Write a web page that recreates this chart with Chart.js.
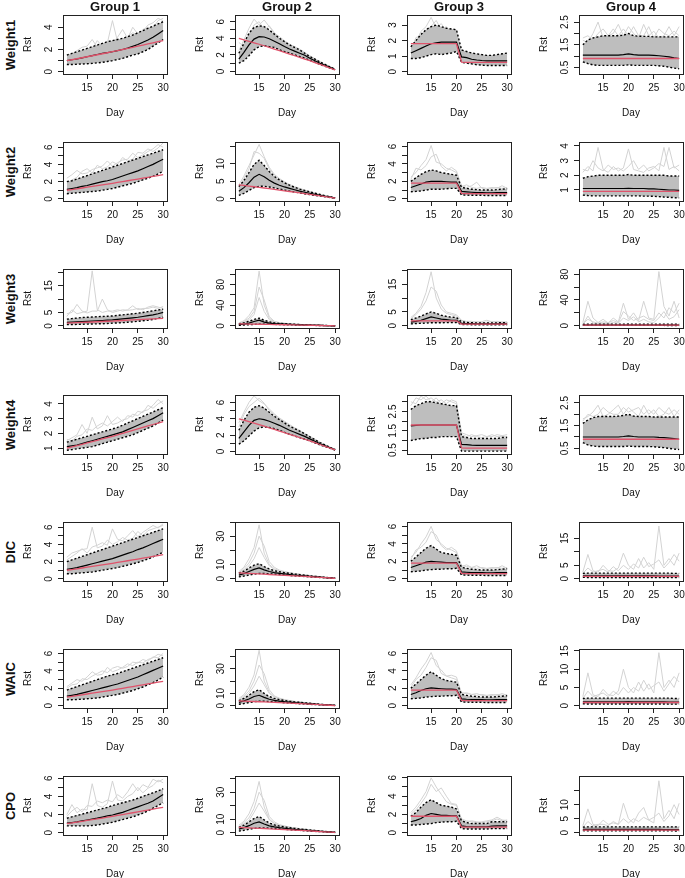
<!DOCTYPE html>
<html>
<head>
<meta charset="utf-8">
<script src="https://cdn.jsdelivr.net/npm/chart.js@4.4.1/dist/chart.umd.min.js"></script>
<style>
  body { margin: 0; background: #fff; width: 685px; height: 878px; position: relative; overflow: hidden;
         font-family: "Liberation Sans", Arial, sans-serif; }
  canvas { position: absolute; }
  .grp { position: absolute; font-weight: bold; font-size: 13px; color: #111; transform: translate(-50%, -50%); white-space: nowrap; }
  .row { position: absolute; font-weight: bold; font-size: 13px; color: #111; transform: translate(-50%, -50%) rotate(-90deg); white-space: nowrap; }
</style>
</head>
<body>
<script>
// ---- data ----
const days = [11, 12, 13, 14, 15, 16, 17, 18, 19, 20, 21, 22, 23, 24, 25, 26, 27, 28, 29, 30];
const dayTicks = [15, 20, 25, 30];
const groupNames = ['Group 1', 'Group 2', 'Group 3', 'Group 4'];
const rowNames = ['Weight1', 'Weight2', 'Weight3', 'Weight4', 'DIC', 'WAIC', 'CPO'];

// true Rt per group (red)
const truthG1 = [1.0, 1.08, 1.17, 1.26, 1.35, 1.44, 1.53, 1.62, 1.71, 1.8, 1.9, 2.0, 2.1, 2.2, 2.3, 2.4, 2.5, 2.6, 2.7, 2.8];
const truthG2 = [4.0, 3.82, 3.64, 3.46, 3.28, 3.1, 2.9, 2.7, 2.5, 2.3, 2.1, 1.9, 1.7, 1.5, 1.3, 1.08, 0.86, 0.64, 0.42, 0.2];
const truthG3 = [1.8, 1.8, 1.8, 1.8, 1.8, 1.8, 1.8, 1.8, 1.8, 1.8, 0.62, 0.6, 0.6, 0.6, 0.6, 0.6, 0.6, 0.6, 0.6, 0.6];
const truthG4 = [0.9, 0.9, 0.9, 0.9, 0.9, 0.9, 0.9, 0.9, 0.9, 0.9, 0.9, 0.9, 0.9, 0.9, 0.9, 0.9, 0.9, 0.9, 0.9, 0.9];

// y tick sets
const yt04 = [0, 1, 2, 3, 4];              const yl04 = ['0', '', '2', '', '4'];
const yt06 = [0, 1, 2, 3, 4, 5, 6];        const yl06 = ['0', '', '2', '', '4', '', '6'];
const yt03 = [0, 1, 2, 3];                 const yl03 = ['0', '1', '2', '3'];
const ytHalf = [0.5, 1.0, 1.5, 2.0, 2.5];  const ylHalf = ['0.5', '', '1.5', '', '2.5'];
const yt14 = [1, 2, 3, 4];                 const yl14 = ['1', '2', '3', '4'];
const yt015 = [0, 5, 10, 15];              const yl015 = ['0', '5', '10', ''];
const yt020 = [0, 5, 10, 15, 20];          const yl020 = ['0', '5', '', '15', ''];
const yt0100 = [0, 20, 40, 60, 80, 100];   const yl0100 = ['0', '', '40', '', '80', ''];
const yt040 = [0, 10, 20, 30, 40];         const yl040 = ['0', '10', '', '30', ''];
const ytW4G3 = [0.5, 1.0, 1.5, 2.0, 2.5, 3.0]; const ylW4G3 = ['0.5', '', '1.5', '', '2.5', ''];
const ytG4b = [0, 5, 10, 15];              const ylG4b = ['0', '5', '', '15'];
const ytG4c = [0, 5, 10, 15];              const ylG4c = ['0', '5', '10', '15'];

// y axis limits [bottom, top]
const lim1 = [[-0.2, 5.1], [-0.3, 6.8], [-0.15, 3.65], [0.22, 2.81]];
const lim2 = [[-0.25, 6.6], [-0.6, 16.2], [-0.25, 6.5], [0.25, 4.27]];
const lim3 = [[-0.8, 21.2], [-4, 110], [-0.8, 20.5], [-3.5, 88]];
const lim4 = [[0.6, 4.6], [-0.3, 6.9], [0.3, 3.35], [0.25, 2.85]];
const lim5 = [[-0.25, 6.6], [-1.7, 40], [-0.25, 6.5], [-0.8, 21]];
const lim6 = [[-0.25, 6.5], [-1.8, 46], [-0.25, 6.5], [-0.6, 15.5]];
const lim7 = [[-0.25, 6.25], [-1.7, 42], [-0.25, 6.2], [-0.8, 20.2]];

// Weight1
const w1g1Mean = [1.0, 1.08, 1.15, 1.25, 1.35, 1.45, 1.55, 1.65, 1.72, 1.8, 1.9, 2.0, 2.12, 2.28, 2.45, 2.65, 2.85, 3.1, 3.4, 3.7];
const w1g1Hi = [1.5, 1.65, 1.8, 1.95, 2.1, 2.25, 2.4, 2.55, 2.7, 2.8, 2.9, 3.0, 3.15, 3.3, 3.5, 3.7, 3.9, 4.1, 4.3, 4.5];
const w1g1Lo = [0.65, 0.65, 0.68, 0.7, 0.72, 0.75, 0.8, 0.85, 0.92, 1.0, 1.1, 1.2, 1.35, 1.5, 1.6, 1.8, 2.0, 2.3, 2.6, 2.9];
const w1g1SimA = [1.2, 1.6, 1.9, 2.2, 2.3, 2.9, 2.2, 2.5, 2.6, 4.6, 2.7, 2.9, 3.2, 3.5, 3.3, 3.8, 4.0, 3.9, 4.6, 4.8];
const w1g1SimB = [1.0, 1.3, 1.6, 1.5, 1.9, 2.0, 2.8, 2.3, 2.4, 2.6, 3.1, 3.8, 3.0, 4.0, 3.4, 3.6, 4.2, 4.4, 4.8, 4.6];

const w1g2Mean = [1.5, 2.3, 3.2, 3.9, 4.2, 4.15, 3.95, 3.65, 3.35, 3.0, 2.7, 2.45, 2.2, 1.95, 1.6, 1.3, 1.0, 0.75, 0.5, 0.22];
const w1g2Hi = [2.2, 3.4, 4.6, 5.3, 5.5, 5.4, 5.0, 4.5, 4.0, 3.6, 3.2, 2.9, 2.6, 2.2, 1.8, 1.5, 1.15, 0.85, 0.55, 0.28];
const w1g2Lo = [1.0, 1.3, 1.9, 2.6, 3.0, 3.1, 3.0, 2.9, 2.6, 2.4, 2.2, 2.0, 1.8, 1.6, 1.35, 1.1, 0.85, 0.62, 0.42, 0.18];
const w1g2SimA = [2.5, 3.8, 5.2, 6.3, 5.6, 6.2, 5.4, 4.6, 4.2, 3.7, 3.3, 3.0, 2.7, 2.3, 1.9, 1.55, 1.2, 0.9, 0.6, 0.3];
const w1g2SimB = [3.5, 3.0, 4.2, 5.6, 6.0, 5.0, 5.5, 4.7, 3.9, 3.5, 3.1, 2.8, 2.4, 2.1, 1.7, 1.4, 1.1, 0.8, 0.5, 0.25];

const w1g3Mean = [1.2, 1.35, 1.5, 1.65, 1.8, 1.85, 1.9, 1.9, 1.9, 1.9, 0.95, 0.9, 0.8, 0.75, 0.72, 0.7, 0.7, 0.7, 0.7, 0.7];
const w1g3Hi = [1.6, 2.0, 2.4, 2.7, 2.9, 3.0, 2.9, 2.8, 2.75, 2.7, 1.4, 1.3, 1.2, 1.15, 1.1, 1.05, 1.05, 1.1, 1.15, 1.2];
const w1g3Lo = [0.85, 0.85, 0.9, 1.0, 1.1, 1.15, 1.1, 1.15, 1.2, 1.3, 0.6, 0.55, 0.5, 0.45, 0.42, 0.4, 0.4, 0.4, 0.4, 0.4];
const w1g3SimA = [1.5, 1.9, 2.6, 2.9, 3.5, 2.8, 3.1, 2.6, 2.5, 2.4, 1.3, 1.2, 1.1, 1.0, 1.0, 0.95, 0.9, 1.0, 1.1, 1.1];
const w1g3SimB = [1.3, 2.2, 2.3, 2.7, 2.9, 3.3, 2.7, 2.9, 2.3, 2.5, 1.2, 1.1, 1.2, 1.05, 0.9, 1.0, 1.0, 1.05, 1.0, 1.2];

const w1g4Mean = [1.05, 1.05, 1.05, 1.05, 1.05, 1.05, 1.05, 1.05, 1.07, 1.1, 1.07, 1.05, 1.05, 1.05, 1.04, 1.02, 1.0, 0.97, 0.93, 0.9];
const w1g4Hi = [1.5, 1.72, 1.8, 1.85, 1.9, 1.9, 1.9, 1.9, 1.92, 2.0, 1.9, 1.88, 1.87, 1.87, 1.85, 1.85, 1.85, 1.85, 1.85, 1.85];
const w1g4Lo = [0.75, 0.68, 0.62, 0.6, 0.6, 0.6, 0.6, 0.6, 0.6, 0.62, 0.6, 0.6, 0.6, 0.6, 0.6, 0.58, 0.56, 0.52, 0.48, 0.45];
const w1g4SimA = [1.7, 1.6, 2.0, 2.5, 1.8, 1.9, 2.0, 2.4, 1.9, 2.3, 2.0, 1.8, 2.4, 1.9, 2.1, 1.8, 1.9, 2.3, 1.9, 2.3];
const w1g4SimB = [1.8, 1.9, 1.7, 2.0, 2.2, 1.9, 2.2, 1.9, 2.2, 1.9, 2.3, 1.9, 1.9, 2.3, 1.8, 2.2, 2.0, 1.9, 2.1, 1.9];

// Weight2
const w2g1Mean = [1.1, 1.2, 1.3, 1.45, 1.55, 1.7, 1.85, 2.0, 2.1, 2.25, 2.45, 2.65, 2.85, 3.05, 3.25, 3.5, 3.75, 4.0, 4.3, 4.6];
const w2g1Hi = [2.0, 2.1, 2.3, 2.5, 2.7, 2.9, 3.1, 3.3, 3.5, 3.7, 3.9, 4.1, 4.3, 4.5, 4.7, 4.9, 5.1, 5.3, 5.5, 5.7];
const w2g1Lo = [0.6, 0.65, 0.7, 0.75, 0.8, 0.85, 0.9, 1.0, 1.1, 1.2, 1.35, 1.5, 1.65, 1.8, 2.0, 2.2, 2.4, 2.6, 2.9, 3.2];
const w2g1SimA = [2.4, 2.8, 3.3, 2.9, 3.0, 3.4, 3.6, 3.8, 4.4, 3.8, 4.2, 4.5, 4.6, 5.3, 4.8, 5.1, 5.5, 5.8, 6.3, 6.0];
const w2g1SimB = [1.8, 2.2, 2.5, 3.2, 3.5, 3.0, 3.9, 3.5, 3.7, 4.3, 4.0, 4.8, 4.4, 4.6, 5.4, 5.3, 5.8, 5.5, 5.9, 6.5];

const w2g2Mean = [2.2, 3.2, 4.6, 6.2, 7.0, 6.3, 5.3, 4.5, 3.9, 3.4, 3.0, 2.6, 2.2, 1.9, 1.6, 1.3, 1.0, 0.75, 0.5, 0.25];
const w2g2Hi = [3.5, 5.2, 7.5, 9.8, 11.0, 9.5, 7.8, 6.4, 5.4, 4.6, 3.9, 3.3, 2.8, 2.4, 2.0, 1.6, 1.25, 0.9, 0.6, 0.3];
const w2g2Lo = [1.0, 1.6, 2.4, 3.2, 3.6, 3.6, 3.4, 3.1, 2.8, 2.5, 2.2, 1.95, 1.7, 1.45, 1.2, 1.0, 0.8, 0.6, 0.4, 0.2];
const w2g2SimA = [4.0, 6.5, 9.5, 12.5, 15.5, 12.0, 9.0, 7.0, 5.8, 4.9, 4.1, 3.5, 3.0, 2.5, 2.1, 1.7, 1.3, 1.0, 0.65, 0.3];
const w2g2SimB = [3.0, 5.8, 8.5, 13.5, 13.0, 11.5, 8.5, 6.8, 5.6, 4.7, 4.0, 3.4, 2.9, 2.4, 2.0, 1.65, 1.3, 0.95, 0.6, 0.3];

const w2g3Mean = [1.3, 1.5, 1.7, 1.9, 2.0, 2.0, 2.0, 1.95, 1.9, 1.9, 0.85, 0.8, 0.75, 0.7, 0.7, 0.68, 0.68, 0.7, 0.7, 0.7];
const w2g3Hi = [2.0, 2.4, 2.8, 3.1, 3.3, 3.2, 3.0, 2.9, 2.8, 2.7, 1.3, 1.2, 1.1, 1.05, 1.0, 1.0, 1.0, 1.05, 1.1, 1.15];
const w2g3Lo = [0.8, 0.85, 0.9, 1.0, 1.1, 1.1, 1.1, 1.15, 1.2, 1.2, 0.45, 0.42, 0.4, 0.4, 0.4, 0.38, 0.38, 0.38, 0.38, 0.38];
const w2g3SimA = [2.5, 3.0, 3.8, 4.5, 6.1, 4.2, 4.0, 3.5, 3.3, 3.0, 1.5, 1.3, 1.5, 1.9, 1.2, 1.1, 1.2, 1.3, 1.2, 1.3];
const w2g3SimB = [2.2, 3.5, 3.3, 3.8, 4.8, 5.1, 3.7, 3.2, 3.6, 3.2, 1.4, 1.6, 1.3, 1.2, 1.3, 1.2, 1.3, 1.2, 1.5, 1.2];

const w2g4Mean = [1.1, 1.1, 1.1, 1.1, 1.1, 1.1, 1.1, 1.1, 1.1, 1.12, 1.1, 1.1, 1.1, 1.08, 1.07, 1.05, 1.03, 1.0, 1.0, 0.98];
const w2g4Hi = [1.8, 1.9, 1.95, 2.0, 2.0, 2.0, 2.0, 2.0, 2.0, 2.05, 2.0, 2.0, 2.0, 2.0, 2.0, 2.0, 2.0, 1.95, 1.95, 1.95];
const w2g4Lo = [0.65, 0.62, 0.6, 0.6, 0.6, 0.6, 0.6, 0.6, 0.6, 0.6, 0.6, 0.6, 0.58, 0.58, 0.57, 0.55, 0.52, 0.5, 0.48, 0.45];
const w2g4SimA = [2.2, 2.6, 2.3, 3.9, 2.4, 2.2, 2.6, 2.3, 2.5, 3.8, 2.4, 2.3, 2.2, 2.5, 2.6, 2.3, 3.9, 2.4, 2.6, 2.3];
const w2g4SimB = [2.4, 2.3, 3.0, 2.5, 2.3, 2.7, 2.4, 2.5, 2.3, 2.6, 3.0, 2.4, 2.7, 2.3, 2.5, 2.8, 2.6, 3.9, 2.5, 2.7];

// Weight3
const w3g1Mean = [1.3, 1.4, 1.5, 1.6, 1.7, 1.8, 1.9, 2.0, 2.1, 2.2, 2.4, 2.6, 2.8, 3.0, 3.2, 3.5, 3.8, 4.1, 4.5, 5.0];
const w3g1Hi = [2.5, 2.7, 2.9, 3.1, 3.2, 3.3, 3.4, 3.5, 3.6, 3.7, 3.9, 4.1, 4.3, 4.5, 4.7, 5.0, 5.3, 5.6, 5.9, 6.2];
const w3g1Lo = [0.5, 0.5, 0.55, 0.6, 0.65, 0.7, 0.75, 0.8, 0.9, 1.0, 1.1, 1.2, 1.35, 1.5, 1.7, 1.9, 2.1, 2.4, 2.8, 3.2];
const w3g1SimA = [3.5, 6.0, 4.5, 5.0, 5.5, 20.5, 6.0, 5.0, 5.5, 5.5, 6.0, 5.5, 6.0, 7.5, 6.0, 6.5, 6.5, 7.0, 6.5, 7.2];
const w3g1SimB = [4.5, 5.0, 8.0, 5.5, 4.8, 5.5, 5.5, 10.0, 6.0, 5.0, 5.5, 6.0, 5.8, 6.0, 6.5, 6.0, 7.0, 7.5, 7.0, 6.5];

const w3g2Mean = [2.5, 3.5, 5.5, 8.5, 11.0, 7.5, 5.5, 4.5, 3.8, 3.3, 2.9, 2.5, 2.1, 1.8, 1.5, 1.2, 0.9, 0.7, 0.45, 0.25];
const w3g2Hi = [4.0, 6.0, 9.0, 12.5, 15.0, 11.0, 8.0, 6.0, 5.0, 4.3, 3.7, 3.2, 2.7, 2.3, 1.9, 1.5, 1.2, 0.9, 0.6, 0.3];
const w3g2Lo = [1.0, 1.6, 2.4, 3.0, 3.5, 3.4, 3.2, 3.0, 2.7, 2.4, 2.1, 1.9, 1.6, 1.4, 1.2, 1.0, 0.8, 0.6, 0.4, 0.2];
const w3g2SimA = [6, 10, 20, 35, 106, 40, 15, 8, 6, 5, 4, 3.4, 2.9, 2.5, 2.1, 1.7, 1.3, 1.0, 0.7, 0.3];
const w3g2SimB = [5, 9, 15, 28, 75, 50, 18, 9, 6.5, 5.2, 4.3, 3.6, 3.0, 2.6, 2.2, 1.8, 1.4, 1.0, 0.7, 0.35];
const w3g2SimC = [4, 7, 12, 22, 55, 28, 12, 7, 5.5, 4.6, 3.9, 3.3, 2.8, 2.4, 2.0, 1.6, 1.3, 0.95, 0.6, 0.3];

const w3g3Mean = [1.3, 1.6, 2.0, 2.6, 3.2, 2.8, 2.4, 2.2, 2.0, 2.0, 0.9, 0.8, 0.75, 0.7, 0.7, 0.7, 0.7, 0.7, 0.7, 0.7];
const w3g3Hi = [2.2, 2.8, 3.5, 4.3, 5.0, 4.5, 3.8, 3.4, 3.1, 3.0, 1.4, 1.2, 1.1, 1.05, 1.0, 1.0, 1.0, 1.05, 1.1, 1.15];
const w3g3Lo = [0.7, 0.8, 0.9, 1.0, 1.1, 1.1, 1.1, 1.15, 1.2, 1.2, 0.45, 0.42, 0.4, 0.4, 0.4, 0.38, 0.38, 0.38, 0.38, 0.38];
const w3g3SimA = [3.0, 4.5, 7.0, 12.0, 19.5, 10.0, 6.0, 4.5, 4.0, 3.5, 1.8, 1.5, 1.3, 1.5, 1.2, 1.3, 1.5, 1.3, 1.4, 1.2];
const w3g3SimB = [2.5, 4.0, 6.0, 9.0, 14.0, 12.5, 7.5, 5.0, 4.5, 4.0, 2.0, 1.6, 1.6, 1.3, 1.5, 2.0, 1.4, 1.6, 1.3, 1.5];

const w3g4Mean = [1.0, 1.0, 1.0, 1.0, 1.0, 1.0, 1.0, 1.0, 1.0, 1.05, 1.0, 1.0, 1.0, 1.0, 1.0, 1.0, 1.0, 0.95, 0.95, 0.9];
const w3g4Hi = [2.2, 2.5, 2.5, 2.5, 2.5, 2.5, 2.5, 2.5, 2.5, 2.6, 2.5, 2.5, 2.5, 2.5, 2.5, 2.5, 2.5, 2.5, 2.5, 2.5];
const w3g4Lo = [0.6, 0.5, 0.5, 0.5, 0.5, 0.5, 0.5, 0.5, 0.5, 0.5, 0.5, 0.5, 0.5, 0.5, 0.5, 0.5, 0.5, 0.45, 0.45, 0.4];
const w3g4SimA = [5, 38, 12, 5, 10, 4, 12, 6, 35, 10, 20, 8, 38, 12, 10, 84, 30, 15, 38, 12];
const w3g4SimB = [3, 10, 6, 4, 6, 5, 8, 5, 22, 15, 8, 12, 15, 10, 8, 20, 12, 28, 20, 35];
const w3g4SimC = [2, 15, 4, 3, 4, 3, 5, 4, 12, 8, 14, 6, 10, 6, 5, 12, 22, 10, 14, 25];

// Weight4
const w4g1Mean = [1.1, 1.15, 1.2, 1.3, 1.4, 1.5, 1.6, 1.7, 1.8, 1.9, 2.0, 2.1, 2.25, 2.4, 2.55, 2.7, 2.85, 3.0, 3.2, 3.4];
const w4g1Hi = [1.4, 1.5, 1.6, 1.7, 1.8, 1.9, 2.0, 2.1, 2.2, 2.3, 2.4, 2.55, 2.7, 2.85, 3.0, 3.15, 3.3, 3.45, 3.6, 3.75];
const w4g1Lo = [0.85, 0.9, 0.95, 1.0, 1.05, 1.1, 1.2, 1.3, 1.4, 1.5, 1.6, 1.7, 1.8, 1.9, 2.05, 2.2, 2.35, 2.5, 2.7, 2.9];
const w4g1SimA = [1.5, 1.7, 1.9, 2.6, 2.0, 3.1, 2.3, 2.5, 3.2, 2.6, 2.7, 2.9, 3.0, 3.3, 3.2, 3.5, 3.6, 3.9, 4.3, 4.0];
const w4g1SimB = [1.6, 1.5, 1.8, 1.9, 2.3, 2.2, 2.5, 2.7, 2.5, 2.8, 3.1, 2.8, 3.2, 3.1, 3.5, 3.4, 3.9, 3.7, 4.0, 4.2];

const w4g2Mean = [1.6, 2.4, 3.2, 3.8, 4.0, 3.9, 3.7, 3.45, 3.2, 2.9, 2.6, 2.35, 2.1, 1.85, 1.55, 1.25, 0.95, 0.7, 0.45, 0.2];
const w4g2Hi = [2.6, 3.8, 4.8, 5.4, 5.6, 5.3, 4.8, 4.3, 3.9, 3.5, 3.1, 2.8, 2.5, 2.15, 1.8, 1.45, 1.1, 0.8, 0.5, 0.25];
const w4g2Lo = [0.9, 1.3, 1.9, 2.5, 2.9, 3.0, 2.95, 2.8, 2.6, 2.35, 2.1, 1.9, 1.7, 1.5, 1.3, 1.05, 0.8, 0.6, 0.4, 0.18];
const w4g2SimA = [3.5, 4.8, 6.0, 6.8, 6.2, 5.8, 5.2, 4.6, 4.1, 3.7, 3.3, 2.9, 2.6, 2.2, 1.85, 1.5, 1.15, 0.85, 0.55, 0.28];
const w4g2SimB = [3.0, 4.5, 5.5, 6.0, 6.5, 5.9, 5.0, 4.5, 4.0, 3.6, 3.2, 2.85, 2.5, 2.2, 1.8, 1.5, 1.1, 0.8, 0.5, 0.25];

const w4g3Mean = [1.75, 1.78, 1.8, 1.8, 1.8, 1.8, 1.8, 1.8, 1.8, 1.8, 0.8, 0.78, 0.76, 0.75, 0.75, 0.75, 0.75, 0.75, 0.75, 0.75];
const w4g3Hi = [2.6, 2.8, 2.9, 3.0, 3.0, 2.95, 2.9, 2.85, 2.8, 2.8, 1.2, 1.15, 1.1, 1.1, 1.1, 1.1, 1.1, 1.1, 1.15, 1.15];
const w4g3Lo = [1.0, 1.05, 1.1, 1.1, 1.15, 1.15, 1.2, 1.2, 1.2, 1.2, 0.45, 0.45, 0.45, 0.45, 0.45, 0.45, 0.45, 0.45, 0.45, 0.45];
const w4g3SimA = [2.8, 3.2, 3.1, 3.3, 3.0, 3.2, 2.9, 3.1, 3.0, 2.9, 1.3, 1.2, 1.3, 1.2, 1.15, 1.2, 1.3, 1.2, 1.2, 1.2];
const w4g3SimB = [3.0, 2.9, 3.3, 3.1, 3.2, 3.0, 3.1, 2.9, 3.1, 3.0, 1.4, 1.3, 1.2, 1.25, 1.3, 1.2, 1.2, 1.3, 1.25, 1.3];

const w4g4Mean = [1.0, 1.0, 1.0, 1.0, 1.0, 1.0, 1.0, 1.0, 1.02, 1.05, 1.02, 1.0, 1.0, 1.0, 1.0, 0.98, 0.97, 0.95, 0.93, 0.9];
const w4g4Hi = [1.6, 1.75, 1.85, 1.9, 1.9, 1.9, 1.9, 1.92, 1.95, 2.0, 1.92, 1.9, 1.9, 1.9, 1.88, 1.88, 1.88, 1.88, 1.88, 1.88];
const w4g4Lo = [0.75, 0.65, 0.6, 0.58, 0.58, 0.58, 0.58, 0.58, 0.58, 0.6, 0.58, 0.58, 0.58, 0.58, 0.57, 0.55, 0.53, 0.5, 0.47, 0.45];
const w4g4SimA = [1.8, 1.9, 2.1, 2.4, 1.9, 2.0, 2.2, 2.4, 2.0, 2.3, 2.1, 1.9, 2.4, 2.0, 2.2, 1.9, 2.0, 2.3, 1.9, 2.2];
const w4g4SimB = [1.7, 2.0, 1.9, 2.0, 2.3, 2.1, 2.0, 2.0, 2.3, 2.1, 2.2, 2.3, 2.0, 2.2, 2.0, 2.3, 2.1, 2.0, 2.2, 2.0];

// DIC
const w5g1Mean = [1.1, 1.2, 1.3, 1.45, 1.6, 1.75, 1.9, 2.05, 2.2, 2.35, 2.55, 2.75, 2.95, 3.15, 3.4, 3.6, 3.85, 4.1, 4.35, 4.6];
const w5g1Hi = [2.0, 2.2, 2.4, 2.6, 2.8, 3.0, 3.2, 3.4, 3.6, 3.8, 4.0, 4.2, 4.4, 4.6, 4.8, 5.0, 5.2, 5.4, 5.6, 5.8];
const w5g1Lo = [0.6, 0.6, 0.65, 0.7, 0.75, 0.8, 0.9, 1.0, 1.1, 1.2, 1.3, 1.45, 1.6, 1.75, 1.9, 2.1, 2.3, 2.55, 2.8, 3.1];
const w5g1SimA = [2.5, 3.0, 3.2, 3.4, 3.5, 6.0, 3.6, 3.8, 4.5, 4.0, 4.3, 4.8, 4.5, 4.7, 5.5, 5.0, 5.6, 5.8, 6.0, 6.2];
const w5g1SimB = [2.2, 2.6, 3.0, 3.5, 3.0, 3.7, 3.9, 4.2, 3.9, 5.8, 4.6, 4.4, 5.0, 5.6, 4.9, 5.4, 5.8, 6.2, 5.9, 6.4];

const w5g2Mean = [2.5, 3.5, 5.0, 6.5, 7.5, 6.2, 5.0, 4.2, 3.7, 3.3, 2.9, 2.5, 2.2, 1.9, 1.6, 1.3, 1.0, 0.75, 0.5, 0.25];
const w5g2Hi = [3.8, 5.2, 7.5, 9.5, 10.5, 8.5, 6.8, 5.6, 4.8, 4.2, 3.7, 3.2, 2.8, 2.4, 2.0, 1.6, 1.25, 0.9, 0.6, 0.3];
const w5g2Lo = [1.2, 1.8, 2.5, 3.2, 3.6, 3.6, 3.4, 3.1, 2.8, 2.5, 2.2, 1.95, 1.7, 1.45, 1.2, 1.0, 0.8, 0.6, 0.4, 0.2];
const w5g2SimA = [5, 8, 14, 22, 38, 18, 10, 7, 5.5, 4.8, 4.1, 3.5, 3.0, 2.5, 2.1, 1.7, 1.3, 1.0, 0.65, 0.3];
const w5g2SimB = [4, 7, 11, 18, 30, 23, 12, 8, 6, 5, 4.2, 3.6, 3.1, 2.6, 2.2, 1.8, 1.4, 1.0, 0.7, 0.35];
const w5g2SimC = [4.5, 6, 9, 14, 22, 15, 9, 6.5, 5.2, 4.5, 3.9, 3.3, 2.9, 2.4, 2.0, 1.65, 1.3, 0.95, 0.6, 0.3];

const w5g3Mean = [1.3, 1.5, 1.7, 1.9, 2.0, 1.95, 1.9, 1.85, 1.85, 1.85, 0.8, 0.75, 0.7, 0.7, 0.7, 0.68, 0.68, 0.7, 0.7, 0.7];
const w5g3Hi = [2.0, 2.5, 3.0, 3.5, 3.8, 3.4, 3.0, 2.9, 2.8, 2.7, 1.3, 1.2, 1.1, 1.05, 1.0, 1.0, 1.0, 1.05, 1.1, 1.15];
const w5g3Lo = [0.8, 0.85, 0.9, 1.0, 1.05, 1.1, 1.1, 1.15, 1.15, 1.2, 0.45, 0.42, 0.4, 0.4, 0.4, 0.38, 0.38, 0.38, 0.38, 0.38];
const w5g3SimA = [2.5, 3.0, 4.0, 4.8, 6.0, 4.5, 4.0, 3.5, 3.3, 3.0, 1.5, 1.4, 1.3, 1.5, 1.2, 1.1, 1.2, 1.3, 1.2, 1.3];
const w5g3SimB = [2.2, 3.3, 3.6, 4.2, 5.4, 5.0, 3.8, 3.3, 3.6, 3.2, 1.4, 1.6, 1.3, 1.2, 1.3, 1.2, 1.3, 1.2, 1.5, 1.2];

const w5g4Mean = [1.1, 1.1, 1.1, 1.1, 1.1, 1.1, 1.1, 1.1, 1.1, 1.1, 1.1, 1.1, 1.1, 1.1, 1.1, 1.05, 1.05, 1.0, 1.0, 1.0];
const w5g4Hi = [2.0, 2.1, 2.1, 2.1, 2.1, 2.1, 2.1, 2.1, 2.1, 2.1, 2.1, 2.1, 2.1, 2.1, 2.1, 2.1, 2.1, 2.1, 2.0, 2.0];
const w5g4Lo = [0.55, 0.5, 0.5, 0.5, 0.5, 0.5, 0.5, 0.5, 0.5, 0.5, 0.5, 0.5, 0.5, 0.5, 0.5, 0.5, 0.5, 0.45, 0.45, 0.45];
const w5g4SimA = [2.5, 9.0, 3.0, 2.5, 5.0, 3.0, 2.8, 4.0, 9.5, 5.0, 3.5, 7.5, 4.0, 6.0, 3.5, 19.5, 5.0, 7.5, 5.0, 9.5];
const w5g4SimB = [2.0, 4.0, 2.5, 3.0, 3.5, 2.5, 4.5, 3.0, 5.0, 3.5, 5.5, 4.0, 8.0, 4.5, 5.5, 7.0, 4.0, 6.0, 9.0, 6.5];

// WAIC
const w6g1Mean = [1.1, 1.2, 1.3, 1.45, 1.6, 1.75, 1.9, 2.05, 2.2, 2.35, 2.5, 2.7, 2.9, 3.1, 3.3, 3.55, 3.8, 4.05, 4.3, 4.55];
const w6g1Hi = [1.8, 2.0, 2.2, 2.4, 2.6, 2.8, 3.0, 3.2, 3.4, 3.55, 3.7, 3.9, 4.1, 4.3, 4.5, 4.7, 4.9, 5.1, 5.3, 5.5];
const w6g1Lo = [0.7, 0.7, 0.72, 0.75, 0.8, 0.85, 0.9, 1.0, 1.1, 1.2, 1.3, 1.45, 1.6, 1.75, 1.95, 2.15, 2.4, 2.65, 2.95, 3.3];
const w6g1SimA = [2.2, 2.6, 3.0, 2.8, 3.3, 3.9, 3.5, 3.6, 4.4, 3.9, 4.1, 4.4, 4.8, 4.6, 5.0, 4.9, 5.3, 5.5, 5.9, 5.7];
const w6g1SimB = [2.0, 2.4, 2.5, 3.1, 3.0, 3.4, 3.7, 4.0, 3.8, 4.3, 4.5, 4.3, 4.5, 5.0, 4.9, 5.3, 5.1, 5.6, 5.5, 6.0];

const w6g2Mean = [2.8, 4.0, 5.5, 7.5, 8.5, 6.8, 5.3, 4.4, 3.8, 3.3, 2.9, 2.5, 2.2, 1.9, 1.6, 1.3, 1.0, 0.75, 0.5, 0.25];
const w6g2Hi = [4.2, 6.0, 8.5, 11.5, 13.0, 10.0, 7.5, 6.0, 5.0, 4.3, 3.7, 3.2, 2.8, 2.4, 2.0, 1.6, 1.25, 0.9, 0.6, 0.3];
const w6g2Lo = [1.2, 1.8, 2.6, 3.3, 3.7, 3.7, 3.5, 3.1, 2.8, 2.5, 2.2, 1.95, 1.7, 1.45, 1.2, 1.0, 0.8, 0.6, 0.4, 0.2];
const w6g2SimA = [6, 9, 15, 25, 45, 20, 11, 7.5, 5.8, 4.9, 4.1, 3.5, 3.0, 2.5, 2.1, 1.7, 1.3, 1.0, 0.65, 0.3];
const w6g2SimB = [5, 8, 12, 20, 33, 26, 13, 8, 6.2, 5.1, 4.3, 3.6, 3.1, 2.6, 2.2, 1.8, 1.4, 1.0, 0.7, 0.35];
const w6g2SimC = [4, 7, 10, 16, 24, 17, 10, 7, 5.5, 4.6, 3.9, 3.3, 2.9, 2.4, 2.0, 1.65, 1.3, 0.95, 0.6, 0.3];

const w6g3Mean = [1.3, 1.5, 1.75, 1.95, 2.05, 2.0, 1.95, 1.9, 1.9, 1.85, 0.8, 0.75, 0.72, 0.7, 0.7, 0.68, 0.68, 0.7, 0.7, 0.7];
const w6g3Hi = [2.0, 2.5, 3.0, 3.5, 3.9, 3.5, 3.1, 2.9, 2.8, 2.7, 1.3, 1.2, 1.1, 1.05, 1.0, 1.0, 1.0, 1.05, 1.1, 1.15];
const w6g3Lo = [0.8, 0.85, 0.9, 1.0, 1.05, 1.1, 1.1, 1.15, 1.15, 1.2, 0.45, 0.42, 0.4, 0.4, 0.4, 0.38, 0.38, 0.38, 0.38, 0.38];
const w6g3SimA = [2.4, 3.2, 4.2, 5.0, 6.1, 4.6, 4.1, 3.4, 3.2, 3.0, 1.5, 1.4, 1.3, 1.4, 1.2, 1.1, 1.2, 1.3, 1.2, 1.3];
const w6g3SimB = [2.1, 3.0, 3.5, 4.4, 5.5, 5.2, 3.7, 3.4, 3.5, 3.3, 1.4, 1.5, 1.3, 1.2, 1.3, 1.2, 1.3, 1.2, 1.4, 1.2];

const w6g4Mean = [1.1, 1.1, 1.1, 1.1, 1.1, 1.1, 1.1, 1.1, 1.1, 1.12, 1.1, 1.1, 1.1, 1.1, 1.08, 1.05, 1.05, 1.0, 1.0, 1.0];
const w6g4Hi = [2.0, 2.1, 2.1, 2.1, 2.1, 2.1, 2.1, 2.1, 2.1, 2.1, 2.1, 2.1, 2.1, 2.1, 2.1, 2.1, 2.1, 2.1, 2.0, 2.0];
const w6g4Lo = [0.55, 0.5, 0.5, 0.5, 0.5, 0.5, 0.5, 0.5, 0.5, 0.5, 0.5, 0.5, 0.5, 0.5, 0.5, 0.5, 0.5, 0.45, 0.45, 0.45];
const w6g4SimA = [2.5, 9.0, 3.0, 2.5, 4.5, 3.0, 2.8, 4.0, 10.0, 5.0, 3.5, 6.5, 4.0, 6.0, 3.5, 14.5, 5.0, 7.0, 5.0, 9.0];
const w6g4SimB = [2.0, 4.0, 2.5, 3.0, 3.5, 2.5, 4.0, 3.0, 5.0, 3.5, 5.0, 4.0, 7.0, 4.5, 5.5, 6.5, 4.0, 6.0, 8.0, 6.5];

// CPO
const w7g1Mean = [1.05, 1.12, 1.2, 1.3, 1.4, 1.5, 1.6, 1.72, 1.85, 1.95, 2.1, 2.25, 2.45, 2.65, 2.85, 3.05, 3.25, 3.5, 3.85, 4.2];
const w7g1Hi = [1.6, 1.75, 1.9, 2.05, 2.2, 2.35, 2.5, 2.65, 2.8, 3.0, 3.15, 3.3, 3.45, 3.6, 3.8, 4.0, 4.2, 4.4, 4.6, 4.85];
const w7g1Lo = [0.75, 0.75, 0.75, 0.75, 0.75, 0.8, 0.85, 0.95, 1.05, 1.15, 1.3, 1.45, 1.6, 1.75, 1.95, 2.15, 2.4, 2.7, 3.0, 3.3];
const w7g1SimA = [2.0, 3.1, 2.2, 2.6, 2.5, 5.4, 3.0, 2.8, 3.2, 5.7, 3.6, 3.5, 4.0, 4.3, 5.0, 4.4, 4.9, 5.2, 5.8, 5.5];
const w7g1SimB = [1.8, 2.4, 2.8, 2.3, 3.0, 2.9, 3.5, 3.3, 3.6, 3.4, 4.2, 3.8, 4.5, 5.4, 4.6, 5.3, 5.0, 5.9, 5.6, 5.9];

const w7g2Mean = [2.6, 3.8, 5.2, 7.0, 8.0, 6.4, 5.1, 4.3, 3.7, 3.3, 2.9, 2.5, 2.2, 1.9, 1.6, 1.3, 1.0, 0.75, 0.5, 0.25];
const w7g2Hi = [4.0, 5.6, 8.0, 10.5, 12.0, 9.5, 7.2, 5.8, 4.9, 4.3, 3.7, 3.2, 2.8, 2.4, 2.0, 1.6, 1.25, 0.9, 0.6, 0.3];
const w7g2Lo = [1.2, 1.8, 2.5, 3.2, 3.6, 3.6, 3.4, 3.1, 2.8, 2.5, 2.2, 1.95, 1.7, 1.45, 1.2, 1.0, 0.8, 0.6, 0.4, 0.2];
const w7g2SimA = [5.5, 8.5, 14, 23, 38, 19, 10, 7, 5.6, 4.8, 4.1, 3.5, 3.0, 2.5, 2.1, 1.7, 1.3, 1.0, 0.65, 0.3];
const w7g2SimB = [4.5, 7.5, 11, 18, 30, 24, 12, 8, 6, 5, 4.2, 3.6, 3.1, 2.6, 2.2, 1.8, 1.4, 1.0, 0.7, 0.35];
const w7g2SimC = [4, 6.5, 9, 15, 22, 16, 9.5, 6.8, 5.3, 4.5, 3.9, 3.3, 2.9, 2.4, 2.0, 1.65, 1.3, 0.95, 0.6, 0.3];

const w7g3Mean = [1.2, 1.35, 1.55, 1.9, 2.1, 2.0, 1.9, 1.9, 1.85, 1.85, 0.75, 0.68, 0.65, 0.65, 0.65, 0.65, 0.72, 0.75, 0.75, 0.75];
const w7g3Hi = [1.8, 2.2, 2.8, 3.3, 3.6, 3.3, 3.0, 2.9, 2.8, 2.6, 1.3, 1.1, 1.0, 1.0, 1.0, 1.0, 1.2, 1.2, 1.2, 1.2];
const w7g3Lo = [0.85, 0.85, 0.9, 0.95, 1.0, 1.1, 1.15, 1.2, 1.2, 1.25, 0.45, 0.4, 0.4, 0.4, 0.4, 0.4, 0.45, 0.45, 0.45, 0.45];
const w7g3SimA = [2.2, 2.8, 3.6, 4.5, 6.0, 5.0, 4.2, 3.4, 3.1, 3.0, 1.5, 1.3, 1.2, 1.1, 1.2, 1.3, 1.4, 1.7, 1.4, 1.3];
const w7g3SimB = [2.0, 2.5, 3.2, 4.0, 5.3, 4.5, 4.9, 4.0, 3.2, 3.1, 1.4, 1.2, 1.3, 1.2, 1.1, 1.2, 1.3, 1.5, 1.3, 1.4];

const w7g4Mean = [1.2, 1.2, 1.2, 1.2, 1.2, 1.2, 1.2, 1.2, 1.2, 1.22, 1.2, 1.2, 1.2, 1.2, 1.2, 1.18, 1.15, 1.12, 1.1, 1.1];
const w7g4Hi = [2.0, 2.1, 2.1, 2.1, 2.1, 2.1, 2.1, 2.1, 2.1, 2.1, 2.1, 2.1, 2.1, 2.1, 2.1, 2.1, 2.1, 2.1, 2.1, 2.1];
const w7g4Lo = [0.75, 0.7, 0.7, 0.7, 0.7, 0.7, 0.7, 0.7, 0.7, 0.7, 0.7, 0.7, 0.7, 0.7, 0.7, 0.7, 0.7, 0.68, 0.65, 0.65];
const w7g4SimA = [2.5, 8.5, 3.0, 2.5, 4.5, 3.0, 3.5, 3.0, 10.5, 5.0, 3.5, 7.0, 9.0, 4.5, 3.5, 18.5, 5.0, 8.0, 5.0, 10.5];
const w7g4SimB = [2.0, 4.0, 2.5, 3.0, 3.0, 2.5, 4.0, 3.0, 5.0, 3.5, 5.0, 4.0, 5.5, 4.5, 5.5, 7.0, 4.0, 6.0, 10.0, 6.5];

// ---- panel table (row by row, Group 1..4) ----
const panels = [
  { mean: w1g1Mean, hi: w1g1Hi, lo: w1g1Lo, sims: [w1g1SimA, w1g1SimB], yt: yt04, yl: yl04, lim: lim1[0] },
  { mean: w1g2Mean, hi: w1g2Hi, lo: w1g2Lo, sims: [w1g2SimA, w1g2SimB], yt: yt06, yl: yl06, lim: lim1[1] },
  { mean: w1g3Mean, hi: w1g3Hi, lo: w1g3Lo, sims: [w1g3SimA, w1g3SimB], yt: yt03, yl: yl03, lim: lim1[2] },
  { mean: w1g4Mean, hi: w1g4Hi, lo: w1g4Lo, sims: [w1g4SimA, w1g4SimB], yt: ytHalf, yl: ylHalf, lim: lim1[3] },
  { mean: w2g1Mean, hi: w2g1Hi, lo: w2g1Lo, sims: [w2g1SimA, w2g1SimB], yt: yt06, yl: yl06, lim: lim2[0] },
  { mean: w2g2Mean, hi: w2g2Hi, lo: w2g2Lo, sims: [w2g2SimA, w2g2SimB], yt: yt015, yl: yl015, lim: lim2[1] },
  { mean: w2g3Mean, hi: w2g3Hi, lo: w2g3Lo, sims: [w2g3SimA, w2g3SimB], yt: yt06, yl: yl06, lim: lim2[2] },
  { mean: w2g4Mean, hi: w2g4Hi, lo: w2g4Lo, sims: [w2g4SimA, w2g4SimB], yt: yt14, yl: yl14, lim: lim2[3] },
  { mean: w3g1Mean, hi: w3g1Hi, lo: w3g1Lo, sims: [w3g1SimA, w3g1SimB], yt: yt020, yl: yl020, lim: lim3[0] },
  { mean: w3g2Mean, hi: w3g2Hi, lo: w3g2Lo, sims: [w3g2SimA, w3g2SimB, w3g2SimC], yt: yt0100, yl: yl0100, lim: lim3[1] },
  { mean: w3g3Mean, hi: w3g3Hi, lo: w3g3Lo, sims: [w3g3SimA, w3g3SimB], yt: yt020, yl: yl020, lim: lim3[2] },
  { mean: w3g4Mean, hi: w3g4Hi, lo: w3g4Lo, sims: [w3g4SimA, w3g4SimB, w3g4SimC], yt: yt0100, yl: yl0100, lim: lim3[3] },
  { mean: w4g1Mean, hi: w4g1Hi, lo: w4g1Lo, sims: [w4g1SimA, w4g1SimB], yt: yt14, yl: yl14, lim: lim4[0] },
  { mean: w4g2Mean, hi: w4g2Hi, lo: w4g2Lo, sims: [w4g2SimA, w4g2SimB], yt: yt06, yl: yl06, lim: lim4[1] },
  { mean: w4g3Mean, hi: w4g3Hi, lo: w4g3Lo, sims: [w4g3SimA, w4g3SimB], yt: ytW4G3, yl: ylW4G3, lim: lim4[2] },
  { mean: w4g4Mean, hi: w4g4Hi, lo: w4g4Lo, sims: [w4g4SimA, w4g4SimB], yt: ytHalf, yl: ylHalf, lim: lim4[3] },
  { mean: w5g1Mean, hi: w5g1Hi, lo: w5g1Lo, sims: [w5g1SimA, w5g1SimB], yt: yt06, yl: yl06, lim: lim5[0] },
  { mean: w5g2Mean, hi: w5g2Hi, lo: w5g2Lo, sims: [w5g2SimA, w5g2SimB, w5g2SimC], yt: yt040, yl: yl040, lim: lim5[1] },
  { mean: w5g3Mean, hi: w5g3Hi, lo: w5g3Lo, sims: [w5g3SimA, w5g3SimB], yt: yt06, yl: yl06, lim: lim5[2] },
  { mean: w5g4Mean, hi: w5g4Hi, lo: w5g4Lo, sims: [w5g4SimA, w5g4SimB], yt: ytG4b, yl: ylG4b, lim: lim5[3] },
  { mean: w6g1Mean, hi: w6g1Hi, lo: w6g1Lo, sims: [w6g1SimA, w6g1SimB], yt: yt06, yl: yl06, lim: lim6[0] },
  { mean: w6g2Mean, hi: w6g2Hi, lo: w6g2Lo, sims: [w6g2SimA, w6g2SimB, w6g2SimC], yt: yt040, yl: yl040, lim: lim6[1] },
  { mean: w6g3Mean, hi: w6g3Hi, lo: w6g3Lo, sims: [w6g3SimA, w6g3SimB], yt: yt06, yl: yl06, lim: lim6[2] },
  { mean: w6g4Mean, hi: w6g4Hi, lo: w6g4Lo, sims: [w6g4SimA, w6g4SimB], yt: ytG4c, yl: ylG4c, lim: lim6[3] },
  { mean: w7g1Mean, hi: w7g1Hi, lo: w7g1Lo, sims: [w7g1SimA, w7g1SimB], yt: yt06, yl: yl06, lim: lim7[0] },
  { mean: w7g2Mean, hi: w7g2Hi, lo: w7g2Lo, sims: [w7g2SimA, w7g2SimB, w7g2SimC], yt: yt040, yl: yl040, lim: lim7[1] },
  { mean: w7g3Mean, hi: w7g3Hi, lo: w7g3Lo, sims: [w7g3SimA, w7g3SimB], yt: yt06, yl: yl06, lim: lim7[2] },
  { mean: w7g4Mean, hi: w7g4Hi, lo: w7g4Lo, sims: [w7g4SimA, w7g4SimB], yt: yt015, yl: yl015, lim: lim7[3] }
];
const truths = [truthG1, truthG2, truthG3, truthG4];

// ---- layout ----
const BOX_W = 104, BOX_H = 59;
const PAD_L = 45, PAD_T = 6, PAD_R = 6, PAD_B = 45;
const boxLeft = c => 63 + c * 172;
const boxTop = r => Math.round(15 + r * 126.8);
const FONT = '"Liberation Sans", Arial, sans-serif';

// R style: full box + rotated y tick labels
const rBox = {
  id: 'rBox',
  afterDraw(chart, args, opts) {
    const { ctx, chartArea: a } = chart;
    const ys = chart.scales.y;
    ctx.save();
    ctx.strokeStyle = '#222';
    ctx.lineWidth = 1;
    ctx.strokeRect(Math.round(a.left) + 0.5, Math.round(a.top) + 0.5,
                   Math.round(a.right - a.left), Math.round(a.bottom - a.top));
    ctx.fillStyle = '#111';
    ctx.font = '10px ' + FONT;
    ctx.textAlign = 'center';
    ctx.textBaseline = 'alphabetic';
    ys.ticks.forEach(t => {
      const lab = opts.labels[opts.ticks.indexOf(t.value)];
      if (!lab) return;
      ctx.save();
      ctx.translate(a.left - 11, ys.getPixelForValue(t.value));
      ctx.rotate(-Math.PI / 2);
      ctx.fillText(lab, 0, 0);
      ctx.restore();
    });
    ctx.restore();
  }
};

const xy = arr => arr.map((v, i) => ({ x: days[i], y: v }));
const line = (arr, color, width, dash, order) => ({
  data: xy(arr), borderColor: color, borderWidth: width, borderDash: dash || [],
  pointRadius: 0, fill: false, order: order
});

panels.forEach((p, k) => {
  const r = Math.floor(k / 4), c = k % 4;
  const truth = truths[c];
  const xExt = 0.04 * (days[days.length - 1] - days[0]);

  const cv = document.createElement('canvas');
  cv.width = BOX_W + PAD_L + PAD_R;
  cv.height = BOX_H + PAD_T + PAD_B;
  cv.style.left = (boxLeft(c) - PAD_L) + 'px';
  cv.style.top = (boxTop(r) - PAD_T) + 'px';
  document.body.appendChild(cv);

  const ds = [
    line(truth, '#DF536B', 1.3, null, 0),
    line(p.mean, '#000', 1.2, null, 1),
    Object.assign(line(p.hi, '#000', 1.4, [2, 2], 3), { fill: 3, backgroundColor: '#bebebe' }),
    line(p.lo, '#000', 1.4, [2, 2], 2)
  ];
  p.sims.forEach(s => ds.push(line(s, '#d3d3d3', 1, null, 10)));

  new Chart(cv, {
    type: 'line',
    data: { datasets: ds },
    options: {
      responsive: false,
      animation: false,
      events: [],
      layout: { padding: { top: PAD_T, right: PAD_R, left: 0, bottom: 0 } },
      elements: { line: { tension: 0 }, point: { radius: 0 } },
      plugins: { legend: { display: false }, tooltip: { enabled: false },
                 rBox: { ticks: p.yt, labels: p.yl } },
      scales: {
        x: {
          type: 'linear', min: days[0] - xExt, max: days[days.length - 1] + xExt,
          afterBuildTicks: s => { s.ticks = dayTicks.map(v => ({ value: v })); },
          afterFit: s => { s.height = PAD_B; },
          grid: { drawOnChartArea: false, drawTicks: true, tickLength: 5, color: '#222' },
          border: { display: false },
          ticks: { font: { size: 10, family: FONT }, color: '#111', padding: 3, maxRotation: 0, autoSkip: false,
                   callback: v => String(v) },
          title: { display: true, text: 'Day', font: { size: 10, family: FONT }, color: '#111',
                   padding: { top: 0, bottom: 0 } }
        },
        y: {
          type: 'linear', min: p.lim[0], max: p.lim[1],
          afterBuildTicks: s => { s.ticks = p.yt.filter(v => v >= s.min && v <= s.max).map(v => ({ value: v })); },
          afterFit: s => { s.width = PAD_L; },
          grid: { drawOnChartArea: false, drawTicks: true, tickLength: 5, color: '#222' },
          border: { display: false },
          ticks: { display: false },
          title: { display: true, text: 'Rst', font: { size: 10, family: FONT }, color: '#111',
                   padding: { top: 4, bottom: 0 } }
        }
      }
    },
    plugins: [rBox]
  });
});

// titles
groupNames.forEach((g, c) => {
  const d = document.createElement('div');
  d.className = 'grp';
  d.textContent = g;
  d.style.left = (boxLeft(c) + BOX_W / 2) + 'px';
  d.style.top = '6px';
  document.body.appendChild(d);
});
rowNames.forEach((n, r) => {
  const d = document.createElement('div');
  d.className = 'row';
  d.textContent = n;
  d.style.left = '10px';
  d.style.top = (boxTop(r) + BOX_H / 2) + 'px';
  document.body.appendChild(d);
});
</script>
</body>
</html>
